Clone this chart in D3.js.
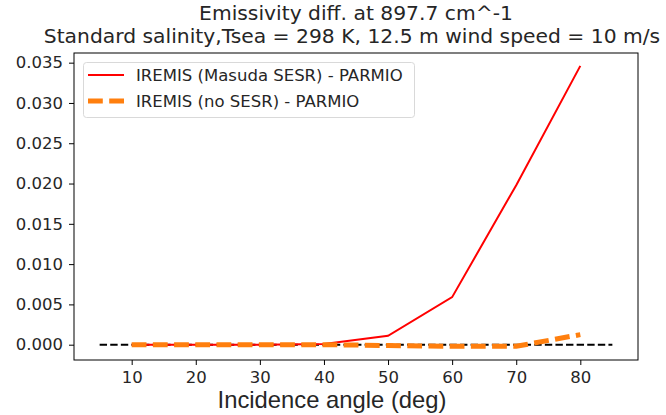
<!DOCTYPE html>
<html lang="en">
<head>
    <meta charset="UTF-8">
    <title>Emissivity diff</title>
    <script src="https://cdn.jsdelivr.net/npm/d3@7"></script>
    <style>
        body { margin: 0; background: #fff; }
        #chart { width: 666px; height: 415px; }
        text { font-family: "DejaVu Sans", sans-serif; fill: #262626; }
    </style>
</head>
<body>
<div id="chart"></div>
<script>
    // data
    var angles = [10, 20, 30, 40, 50, 60, 70, 80];
    var masudaDiff = [0.0, 0.0, 0.0, 0.0001, 0.0011, 0.0059, 0.0198, 0.0346];
    var noSesrDiff = [0.0, 0.0, 0.0, 0.0, -0.0001, -0.0002, -0.0002, 0.00125];
    var zeroLineX = [5, 85];
    var xTicks = [10, 20, 30, 40, 50, 60, 70, 80];
    var yTicks = [0, 0.005, 0.010, 0.015, 0.020, 0.025, 0.030, 0.035];
    var seriesNames = ["IREMIS (Masuda SESR) - PARMIO", "IREMIS (no SESR) - PARMIO"];

    var W = 666, H = 415;
    var mLeft = 74, mRight = 638, mTop = 53, mBottom = 360;

    var svg = d3.select("#chart").append("svg")
        .attr("width", W).attr("height", H);

    var x = d3.scaleLinear().domain([1, 89]).range([mLeft, mRight]);
    var y = d3.scaleLinear().domain([-0.0019, 0.0362]).range([mBottom, mTop]);

    // 标题
    var cx = (mLeft + mRight) / 2;
    svg.append("text").attr("x", cx).attr("y", 20)
        .attr("text-anchor", "middle").style("font-size", "20.3px")
        .text("Emissivity diff. at 897.7 cm^-1");
    svg.append("text").attr("x", cx - 4).attr("y", 43)
        .attr("text-anchor", "middle").style("font-size", "20.3px")
        .text("Standard salinity,Tsea = 298 K, 12.5 m wind speed = 10 m/s");

    // 轴
    var gx = svg.append("g").attr("transform", "translate(0," + mBottom + ")")
        .call(d3.axisBottom(x).tickValues(xTicks).tickSize(5).tickPadding(6));
    var gy = svg.append("g").attr("transform", "translate(" + mLeft + ",0)")
        .call(d3.axisLeft(y).tickValues(yTicks).tickSize(5).tickPadding(6)
            .tickFormat(d3.format(".3f")));
    [gx, gy].forEach(function (g) {
        g.select(".domain").remove();
        g.selectAll("line").attr("stroke", "#000").attr("stroke-width", 1);
        g.selectAll("text").style("font-size", "16.5px")
            .style("font-family", "DejaVu Sans, sans-serif").attr("fill", "#262626");
    });

    svg.append("text").attr("x", 332).attr("y", 408)
        .attr("text-anchor", "middle")
        .style("font-family", "Liberation Sans, Arial, sans-serif")
        .style("font-size", "23.8px")
        .text("Incidence angle (deg)");

    var line = d3.line()
        .x(function (d) { return x(d[0]); })
        .y(function (d) { return y(d[1]); });

    var plot = svg.append("g");

    // zero line
    plot.append("path")
        .datum(zeroLineX.map(function (a) { return [a, 0]; }))
        .attr("d", line).attr("fill", "none")
        .attr("stroke", "#000").attr("stroke-width", 2)
        .attr("stroke-dasharray", "7.4,3.2");

    plot.append("path")
        .datum(angles.map(function (a, i) { return [a, masudaDiff[i]]; }))
        .attr("d", line).attr("fill", "none")
        .attr("stroke", "#ff0000").attr("stroke-width", 2);

    plot.append("path")
        .datum(angles.map(function (a, i) { return [a, noSesrDiff[i]]; }))
        .attr("d", line).attr("fill", "none")
        .attr("stroke", "#ff7f0e").attr("stroke-width", 5)
        .attr("stroke-dasharray", "14.8,6.4");

    // 边框
    svg.append("rect").attr("x", mLeft).attr("y", mTop)
        .attr("width", mRight - mLeft).attr("height", mBottom - mTop)
        .attr("fill", "none").attr("stroke", "#000").attr("stroke-width", 1);

    // 图例
    var lg = svg.append("g");
    lg.append("rect").attr("x", 83.5).attr("y", 62.5).attr("width", 331).attr("height", 55)
        .attr("rx", 3).attr("fill", "#fff").attr("fill-opacity", 0.8)
        .attr("stroke", "#d9d9d9");
    var styles = [
        {color: "#ff0000", w: 2, dash: null},
        {color: "#ff7f0e", w: 5, dash: "14.8,6.4"}
    ];
    seriesNames.forEach(function (name, i) {
        var yy = 75 + i * 26;
        lg.append("line").attr("x1", 88).attr("x2", 124).attr("y1", yy).attr("y2", yy)
            .attr("stroke", styles[i].color).attr("stroke-width", styles[i].w)
            .attr("stroke-dasharray", styles[i].dash);
        lg.append("text").attr("x", 136).attr("y", yy + 6)
            .style("font-size", "16.5px").text(name);
    });
</script>
</body>
</html>
